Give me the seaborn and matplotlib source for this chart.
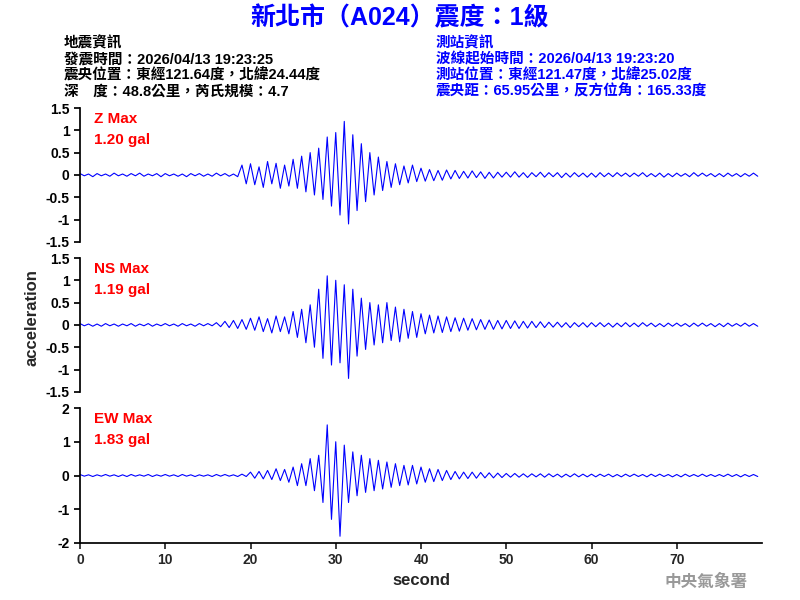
import numpy as np
import pandas as pd
import seaborn as sns
import matplotlib
matplotlib.use("Agg")
import matplotlib.pyplot as plt

sns.set_theme(style="white")
plt.rcParams['font.family'] = ['Liberation Sans', 'Noto Sans CJK TC', 'DejaVu Sans']

dt = 0.5
z_vals = [0.03,-0.02,0.02,-0.04,0.03,-0.02,0.02,-0.03,0.04,-0.02,
 0.02,-0.03,0.03,-0.02,0.04,-0.03,0.02,-0.02,0.03,-0.04,
 0.03,-0.02,0.02,-0.03,0.02,-0.04,0.03,-0.02,0.03,-0.03,
 0.02,-0.03,0.04,-0.02,0.03,-0.03,0.02,-0.04,0.22,-0.2,
 0.25,-0.22,0.18,-0.28,0.3,-0.2,0.26,-0.3,0.22,-0.25,
 0.35,-0.3,0.42,-0.38,0.5,-0.45,0.6,-0.55,0.85,-0.7,
 0.95,-0.9,1.2,-1.1,0.9,-0.8,0.7,-0.6,0.5,-0.45,
 0.4,-0.35,0.3,-0.28,0.25,-0.22,0.2,-0.18,0.22,-0.15,
 0.15,-0.14,0.12,-0.13,0.1,-0.12,0.11,-0.09,0.1,-0.08,
 0.08,-0.07,0.09,-0.06,0.07,-0.08,0.06,-0.07,0.06,-0.05,
 0.06,-0.05,0.07,-0.05,0.05,-0.06,0.05,-0.04,0.06,-0.05,
 0.05,-0.04,0.05,-0.06,0.04,-0.05,0.05,-0.04,0.04,-0.05,
 0.04,-0.05,0.05,-0.04,0.04,-0.04,0.05,-0.03,0.04,-0.04,
 0.04,-0.03,0.05,-0.04,0.03,-0.04,0.04,-0.05,0.03,-0.04,
 0.04,-0.03,0.03,-0.04,0.05,-0.03,0.04,-0.03,0.03,-0.04,
 0.03,-0.04,0.04,-0.03,0.03,-0.04,0.03,-0.03,0.04,-0.03]
ns_vals = [0.03,-0.02,0.02,-0.03,0.02,-0.03,0.03,-0.02,0.02,-0.03,
 0.02,-0.02,0.03,-0.03,0.02,-0.02,0.03,-0.03,0.02,-0.02,
 0.03,-0.02,0.02,-0.03,0.03,-0.02,0.02,-0.03,0.03,-0.02,
 0.03,-0.02,0.05,-0.04,0.08,-0.06,0.1,-0.08,0.12,-0.1,
 0.15,-0.12,0.18,-0.15,0.14,-0.18,0.2,-0.15,0.18,-0.2,
 0.3,-0.28,0.35,-0.4,0.45,-0.5,0.8,-0.75,1.1,-0.9,
 1.0,-0.85,0.9,-1.2,0.8,-0.7,0.6,-0.55,0.5,-0.45,
 0.45,-0.4,0.5,-0.35,0.4,-0.38,0.35,-0.3,0.3,-0.28,
 0.25,-0.2,0.22,-0.18,0.2,-0.17,0.18,-0.15,0.16,-0.14,
 0.15,-0.12,0.14,-0.11,0.12,-0.1,0.11,-0.1,0.1,-0.09,
 0.1,-0.08,0.09,-0.08,0.08,-0.07,0.08,-0.06,0.07,-0.06,
 0.06,-0.05,0.06,-0.05,0.05,-0.06,0.05,-0.04,0.05,-0.05,
 0.05,-0.04,0.05,-0.04,0.04,-0.05,0.04,-0.04,0.05,-0.04,
 0.04,-0.04,0.05,-0.03,0.04,-0.04,0.03,-0.04,0.04,-0.03,
 0.04,-0.03,0.03,-0.04,0.04,-0.03,0.04,-0.03,0.03,-0.04,
 0.03,-0.04,0.04,-0.03,0.03,-0.03,0.04,-0.03,0.03,-0.03]
ew_vals = [0.03,-0.02,0.02,-0.03,0.02,-0.02,0.03,-0.02,0.02,-0.03,
 0.02,-0.03,0.03,-0.02,0.02,-0.02,0.03,-0.03,0.02,-0.02,
 0.03,-0.02,0.02,-0.03,0.03,-0.02,0.02,-0.03,0.02,-0.02,
 0.02,-0.03,0.03,-0.02,0.03,-0.02,0.02,-0.03,0.04,-0.03,
 0.1,-0.08,0.12,-0.1,0.15,-0.12,0.2,-0.15,0.18,-0.2,
 0.25,-0.3,0.35,-0.3,0.5,-0.45,0.6,-0.8,1.5,-1.3,
 1.0,-1.8,0.9,-0.8,0.7,-0.6,0.6,-0.5,0.5,-0.45,
 0.45,-0.4,0.4,-0.35,0.35,-0.3,0.3,-0.28,0.3,-0.25,
 0.25,-0.2,0.2,-0.18,0.18,-0.15,0.15,-0.12,0.12,-0.1,
 0.1,-0.09,0.1,-0.08,0.09,-0.07,0.08,-0.07,0.07,-0.06,
 0.06,-0.05,0.06,-0.05,0.05,-0.05,0.05,-0.04,0.05,-0.05,
 0.05,-0.04,0.04,-0.05,0.04,-0.04,0.05,-0.04,0.04,-0.04,
 0.04,-0.04,0.04,-0.03,0.04,-0.04,0.03,-0.04,0.04,-0.03,
 0.04,-0.03,0.03,-0.04,0.04,-0.03,0.04,-0.03,0.03,-0.04,
 0.03,-0.04,0.04,-0.03,0.03,-0.03,0.04,-0.03,0.03,-0.03,
 0.03,-0.03,0.04,-0.03,0.03,-0.04,0.03,-0.03,0.03,-0.03]

channels = ["Z", "NS", "EW"]
max_labels = ["1.20 gal", "1.19 gal", "1.83 gal"]
ylims = [(-1.5, 1.5), (-1.5, 1.5), (-2, 2)]
yticks = [[-1.5,-1,-0.5,0,0.5,1,1.5], [-1.5,-1,-0.5,0,0.5,1,1.5], [-2,-1,0,1,2]]
series = [z_vals, ns_vals, ew_vals]

fig = plt.figure(figsize=(8, 6), dpi=100)
rects = [(0.1, 0.597, 0.8525, 0.223), (0.1, 0.347, 0.8525, 0.223), (0.1, 0.095, 0.8525, 0.225)]
for i, ch in enumerate(channels):
    ax = fig.add_axes(rects[i])
    vals = series[i]
    df = pd.DataFrame({"t": np.arange(len(vals)) * dt, "a": vals})
    sns.lineplot(data=df, x="t", y="a", ax=ax, color="blue", linewidth=0.8)
    ax.set_xlim(0, 80)
    ax.set_ylim(*ylims[i])
    ax.set_yticks(yticks[i])
    ax.set_yticklabels([f"{v:g}" for v in yticks[i]], fontsize=10, fontweight="bold")
    ax.set_xlabel(""); ax.set_ylabel("")
    for s in ["top", "right"]:
        ax.spines[s].set_visible(False)
    ax.spines["left"].set_color("black")
    ax.spines["bottom"].set_color("black")
    ax.tick_params(axis="y", length=4, direction="out", left=True, colors="black")
    if i < 2:
        ax.spines["bottom"].set_visible(False)
        ax.set_xticks([])
    else:
        ax.set_xticks(range(0, 80, 10))
        ax.set_xticklabels([str(v) for v in range(0, 80, 10)], fontsize=10, fontweight="bold")
        ax.tick_params(axis="x", length=4, bottom=True)
        ax.set_xlabel("second", fontsize=12, fontweight="bold")
    ax.text(0.02, 0.92, f"{ch} Max", transform=ax.transAxes, color="red", fontsize=11,
            fontweight="bold", va="center")
    ax.text(0.02, 0.76, max_labels[i], transform=ax.transAxes, color="red", fontsize=11,
            fontweight="bold", va="center")

fig.text(0.04, 0.47, "acceleration", rotation=90, fontsize=12, fontweight="bold", ha="center", va="center")

hdr = ['Liberation Sans', 'Noto Sans CJK TC', 'DejaVu Sans']
fig.text(0.5, 0.97, "新北市（A024）震度：1級", color="blue", fontsize=18, fontweight="bold",
         ha="center", va="center", family=hdr)
left = ["地震資訊", "發震時間：2026/04/13 19:23:25", "震央位置：東經121.64度，北緯24.44度",
        "深　度：48.8公里，芮氏規模：4.7"]
right = ["測站資訊", "波線起始時間：2026/04/13 19:23:20", "測站位置：東經121.47度，北緯25.02度",
         "震央距：65.95公里，反方位角：165.33度"]
for k in range(4):
    y = 0.927 - k * 0.0265
    fig.text(0.08, y, left[k], fontsize=10.5, color="black", va="center", fontweight="bold", family=hdr)
    fig.text(0.545, y, right[k], fontsize=10.5, color="blue", va="center", fontweight="bold", family=hdr)
fig.text(0.935, 0.03, "中央氣象署", color="#999999", fontsize=12, fontweight="bold",
         ha="right", va="center", family=hdr)

fig.savefig("out.png", dpi=100)
